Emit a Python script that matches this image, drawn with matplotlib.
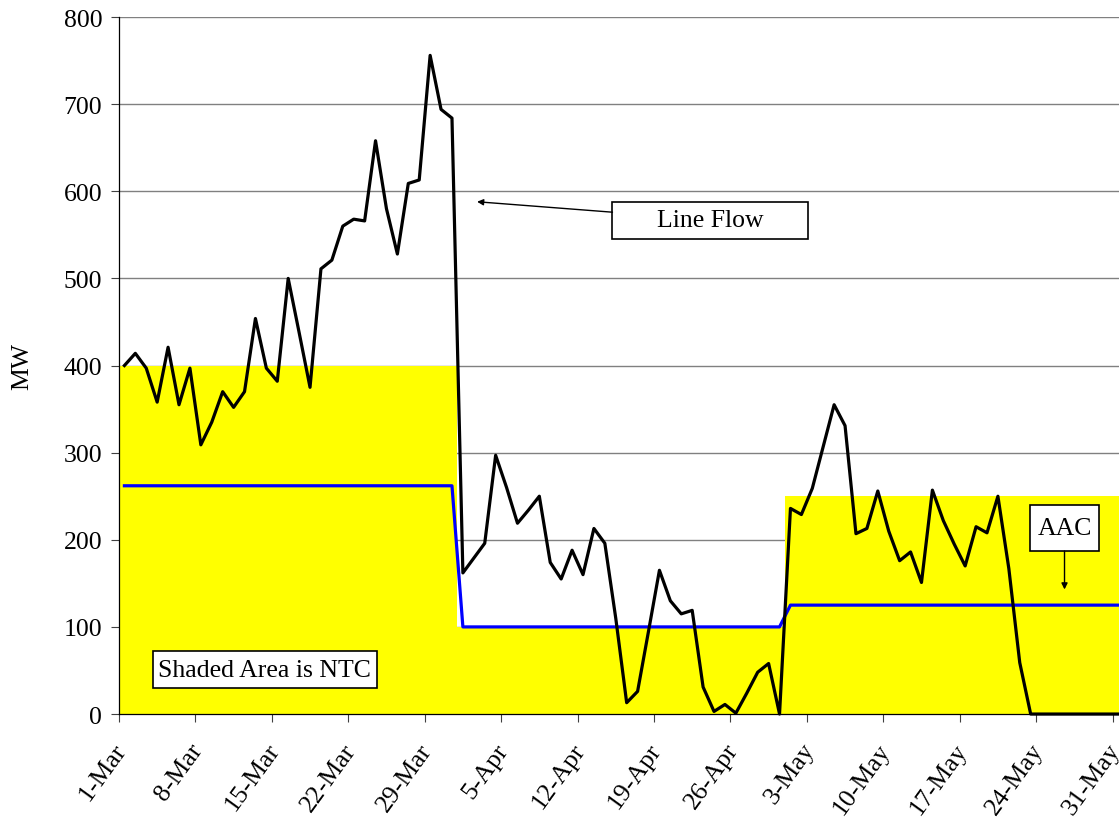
import matplotlib.pyplot as plt
import matplotlib.transforms as mtransforms
import numpy as np
from matplotlib.patches import Rectangle

# daily line flow, 1-Mar .. 31-May (MW)
line_flow = [
    400, 414, 397, 358, 421, 355, 397, 309, 335, 370, 352, 370, 454, 397, 382, 500,
    438, 375, 511, 521, 560, 568, 566, 658, 580, 528, 609, 613, 756, 694, 684,
    162, 179, 196, 297, 260, 219, 234, 250, 174, 155, 188, 160, 213, 196, 110,
    13, 26, 95, 165, 130, 115, 119, 31, 3, 11, 1, 24, 48, 58, 0,
    236, 229, 259, 307, 355, 331, 207, 213, 256, 210, 176, 186, 151, 257, 222,
    195, 170, 215, 208, 250, 167, 59, 0, 0, 0, 0, 0, 0, 0, 0, 0,
]
# period lengths (days) with the NTC and AAC levels for each period
period_days = [31, 30, 31]
ntc_levels = [400, 100, 250]
aac_levels = [262, 100, 125]
tick_days = [0, 7, 14, 21, 28, 35, 42, 49, 56, 63, 70, 77, 84, 91]
tick_labels = ["1-Mar", "8-Mar", "15-Mar", "22-Mar", "29-Mar", "5-Apr", "12-Apr",
               "19-Apr", "26-Apr", "3-May", "10-May", "17-May", "24-May", "31-May"]

plt.rcParams["font.family"] = ["Liberation Serif", "DejaVu Serif"]
FS = 18.5

n = len(line_flow)
x = np.arange(n) + 0.5
ntc = np.repeat(ntc_levels, period_days)
aac = np.repeat(aac_levels, period_days)

fig = plt.figure(figsize=(11.19, 8.2), dpi=100)
ax = fig.add_axes([0.1063, 0.128, 0.8977, 0.85])

edges = np.arange(n + 1)
ax.fill_between(edges, np.append(ntc, ntc[-1]), step="post", color="#FFFF00",
                lw=0, zorder=2)
ax.plot(x, aac, color="#0000FF", lw=2.3, zorder=3, clip_on=False)
ax.plot(x, line_flow, color="black", lw=2.3, zorder=4, clip_on=False)

ax.set_xlim(0, 92)
ax.set_ylim(0, 800)
ax.set_yticks(range(0, 801, 100))
ax.yaxis.grid(True, color="#808080", lw=1.0)
ax.set_axisbelow(True)
ax.set_xticks(tick_days)
ax.set_xticklabels(tick_labels, rotation=54, ha="right", rotation_mode="anchor")
ax.tick_params(axis="both", labelsize=FS, direction="out", length=6, width=0.8,
               color="#404040")
ax.tick_params(axis="x", pad=12)
ax.tick_params(axis="y", pad=6)
shift = mtransforms.ScaledTranslation(-6 / 100, 0, fig.dpi_scale_trans)
for lbl in ax.get_xticklabels():
    lbl.set_transform(lbl.get_transform() + shift)
for side in ("top", "right"):
    ax.spines[side].set_visible(False)
for side in ("left", "bottom"):
    ax.spines[side].set_linewidth(0.9)
ax.spines["bottom"].set_zorder(5)
fig.text(22 / 1119, 1 - 367 / 820, "MW", fontsize=FS, rotation=90,
         ha="center", va="center")


def label_box(x0, x1, y0, y1, text):
    ax.add_patch(Rectangle((x0, y0), x1 - x0, y1 - y0, facecolor="white",
                           edgecolor="black", lw=1.2, zorder=6, clip_on=False))
    ax.text((x0 + x1) / 2, (y0 + y1) / 2, text, fontsize=FS, ha="center",
            va="center", zorder=7)


label_box(45.2, 63.1, 545, 588, "Line Flow")
label_box(83.4, 89.8, 187, 240, "AAC")
label_box(3.1, 23.6, 30, 72, "Shaded Area is NTC")

ax.annotate("", xy=(32.8, 588), xytext=(45.2, 576),
            arrowprops=dict(arrowstyle="-|>", color="black", lw=1,
                            mutation_scale=9, shrinkA=0, shrinkB=0), zorder=6)
ax.annotate("", xy=(86.6, 143), xytext=(86.6, 187),
            arrowprops=dict(arrowstyle="-|>", color="black", lw=1,
                            mutation_scale=9, shrinkA=0, shrinkB=0), zorder=6)

fig.savefig("out.png", dpi=100)
